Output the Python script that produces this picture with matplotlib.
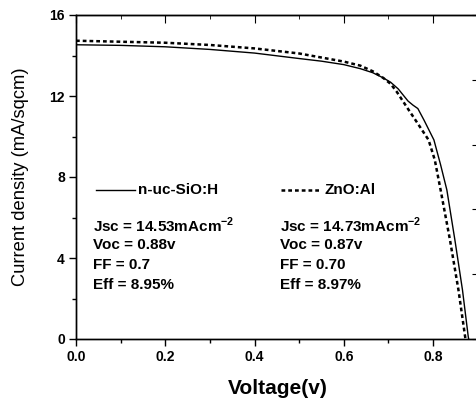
import matplotlib
matplotlib.use("Agg")
from matplotlib import pyplot as plt
from matplotlib.ticker import MultipleLocator, NullFormatter

plt.rcParams['font.family'] = ['Liberation Sans', 'DejaVu Sans']
plt.rcParams['mathtext.fontset'] = 'custom'
plt.rcParams['mathtext.rm'] = 'Liberation Sans:bold'
plt.rcParams['mathtext.bf'] = 'Liberation Sans:bold'

# n-uc-SiO:H (polna crta)
v_sio = [0.0, 0.1, 0.2, 0.3, 0.4, 0.5, 0.55, 0.6, 0.637, 0.665, 0.688, 0.705, 0.722, 0.733,
         0.744, 0.755, 0.766, 0.78, 0.802, 0.817, 0.831, 0.849, 0.866, 0.879, 0.88]
j_sio = [14.53, 14.5, 14.43, 14.3, 14.12, 13.85, 13.72, 13.55, 13.35, 13.15, 12.9, 12.68, 12.35, 12.05,
         11.75, 11.55, 11.38, 10.8, 9.83, 8.6, 7.36, 4.89, 2.42, 0.1, 0.0]

# ZnO:Al (crtkano)
v_zno = [0.0, 0.1, 0.2, 0.3, 0.4, 0.5, 0.6, 0.637, 0.665, 0.688, 0.705, 0.719, 0.741,
         0.764, 0.79, 0.804, 0.817, 0.838, 0.857, 0.872, 0.873]
j_zno = [14.73, 14.68, 14.63, 14.52, 14.35, 14.1, 13.7, 13.5, 13.22, 12.9, 12.6, 12.2, 11.46,
         10.7, 9.83, 8.84, 7.36, 4.89, 2.42, 0.1, 0.0]

tekst_sio = ["Jsc = 14.53mAcm$^{-2}$", "Voc = 0.88v", "FF = 0.7", "Eff = 8.95%"]
tekst_zno = ["Jsc = 14.73mAcm$^{-2}$", "Voc = 0.87v", "FF = 0.70", "Eff = 8.97%"]

crtice = (0, (1.5, 1.2))

fig = plt.figure(figsize=(4.76, 4.05), dpi=100)
ax = fig.add_axes([76 / 476, 66 / 405, 0.8485, 324 / 405])

ax.plot(v_sio, j_sio, color="black", linewidth=1.0)
ax.plot(v_zno, j_zno, color="black", linewidth=1.8, linestyle=crtice)

ax.set_xlim(0, 0.905)
ax.set_ylim(0, 16)
ax.xaxis.set_major_locator(MultipleLocator(0.2))
ax.xaxis.set_minor_locator(MultipleLocator(0.1))
ax.yaxis.set_major_locator(MultipleLocator(4))
ax.yaxis.set_minor_locator(MultipleLocator(2))
ax.xaxis.set_major_formatter(lambda x, p: "%.1f" % x)
ax.yaxis.set_major_formatter(lambda y, p: "%d" % y)

ax.tick_params(which="both", direction="out", width=1)
ax.tick_params(which="major", length=5, labelsize=10, pad=3)
ax.tick_params(which="minor", length=3)
for lab in ax.get_xticklabels() + ax.get_yticklabels():
    lab.set_fontweight("bold")

# zgornje oznake navznoter
sek = ax.secondary_xaxis("top")
sek.xaxis.set_major_locator(MultipleLocator(0.2))
sek.xaxis.set_minor_locator(MultipleLocator(0.1))
sek.tick_params(which="both", direction="in", labeltop=False)
sek.tick_params(which="major", length=6)
sek.tick_params(which="minor", length=3)

ax2 = ax.twinx()
ax2.set_ylim(0, 10)
ax2.yaxis.set_major_locator(MultipleLocator(2))
ax2.yaxis.set_minor_locator(MultipleLocator(1))
ax2.yaxis.set_major_formatter(NullFormatter())
ax2.tick_params(which="both", direction="in")
ax2.tick_params(which="major", length=6)
ax2.tick_params(which="minor", length=3)

for a in (ax, ax2):
    for s in a.spines.values():
        s.set_linewidth(1.0)

ax.set_xlabel("Voltage(v)", fontsize=15, fontweight="bold", labelpad=11)
ax.set_ylabel("Current density (mA/sqcm)", fontsize=13.2, labelpad=15)

# legenda
ax.plot([0.045, 0.133], [7.35, 7.35], color="black", linewidth=1.0)
ax.text(0.139, 7.35, "n-uc-SiO:H", fontsize=11, fontweight="bold", va="center")
ax.plot([0.46, 0.55], [7.35, 7.35], color="black", linewidth=1.8, linestyle=crtice)
ax.text(0.556, 7.35, "ZnO:Al", fontsize=11, fontweight="bold", va="center")

for i in range(len(tekst_sio)):
    y = 5.6 - i * 0.98
    ax.text(0.038, y, tekst_sio[i], fontsize=11, fontweight="bold", va="center")
    ax.text(0.457, y, tekst_zno[i], fontsize=11, fontweight="bold", va="center")

plt.savefig("out.png", dpi=100)
